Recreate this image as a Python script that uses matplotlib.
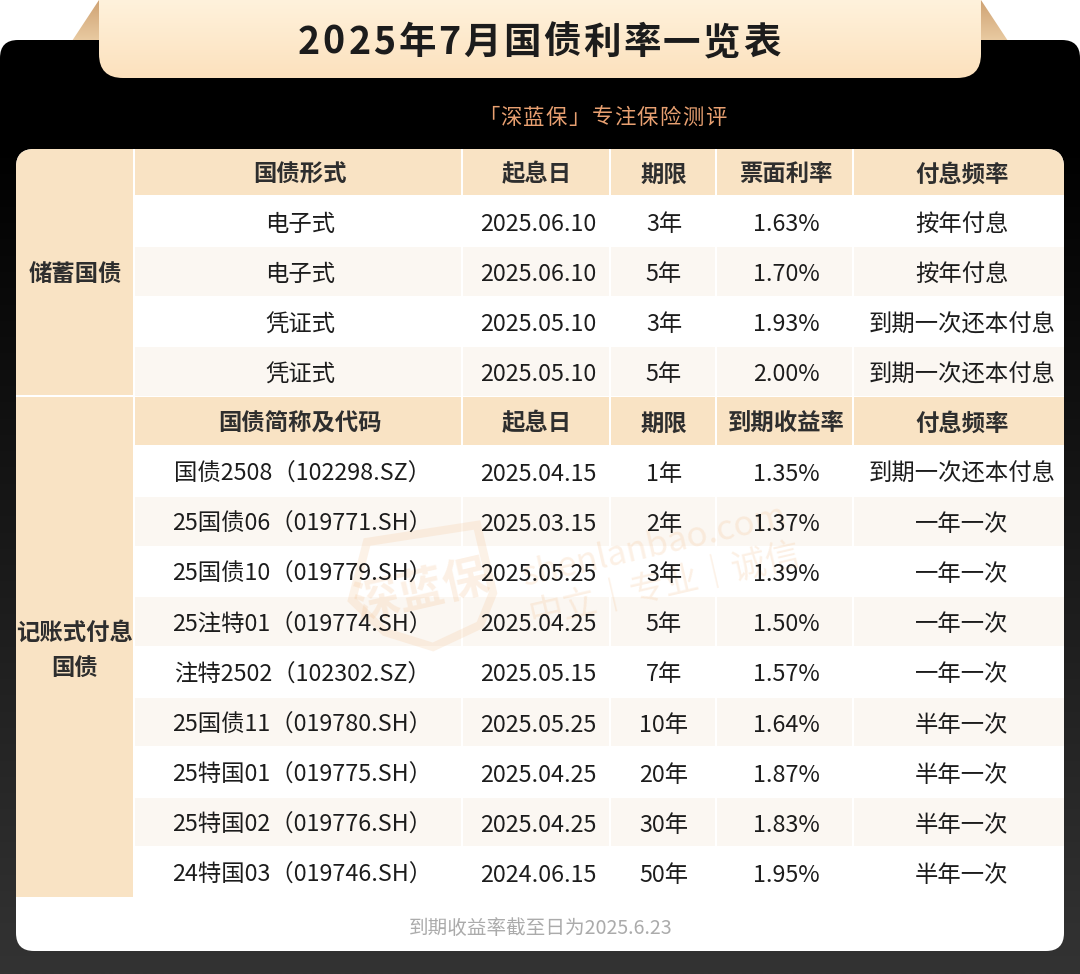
import numpy as np
import matplotlib
matplotlib.use("Agg")
import matplotlib.pyplot as plt
from matplotlib.patches import FancyBboxPatch, Polygon, Rectangle
from matplotlib.textpath import TextPath

plt.rcParams['font.family'] = ['Noto Sans CJK SC', 'DejaVu Sans']

# ---- data ----
title = "2025年7月国债利率一览表"
subtitle = "「深蓝保」专注保险测评"
footnote = "到期收益率截至日为2025.6.23"

header_a = ["国债形式", "起息日", "期限", "票面利率", "付息频率"]
header_b = ["国债简称及代码", "起息日", "期限", "到期收益率", "付息频率"]

savings_form = ["电子式", "电子式", "凭证式", "凭证式"]
savings_date = ["2025.06.10", "2025.06.10", "2025.05.10", "2025.05.10"]
savings_term = ["3年", "5年", "3年", "5年"]
savings_rate = ["1.63%", "1.70%", "1.93%", "2.00%"]
savings_freq = ["按年付息", "按年付息", "到期一次还本付息", "到期一次还本付息"]

book_name = ["国债2508（102298.SZ）", "25国债06（019771.SH）", "25国债10（019779.SH）",
             "25注特01（019774.SH）", "注特2502（102302.SZ）", "25国债11（019780.SH）",
             "25特国01（019775.SH）", "25特国02（019776.SH）", "24特国03（019746.SH）"]
book_date = ["2025.04.15", "2025.03.15", "2025.05.25", "2025.04.25", "2025.05.15",
             "2025.05.25", "2025.04.25", "2025.04.25", "2024.06.15"]
book_term = ["1年", "2年", "3年", "5年", "7年", "10年", "20年", "30年", "50年"]
book_rate = ["1.35%", "1.37%", "1.39%", "1.50%", "1.57%", "1.64%", "1.87%", "1.83%", "1.95%"]
book_freq = ["到期一次还本付息", "一年一次", "一年一次", "一年一次", "一年一次",
             "半年一次", "半年一次", "半年一次", "半年一次"]

BEIGE = "#F9E3C4"
TINT = "#FBF7F2"
INK = "#1C1C1C"
BODY_SIZE = 16.8

fig = plt.figure(figsize=(10.8, 9.74), dpi=100, facecolor="white")
ax = fig.add_axes([0, 0, 1, 1])
ax.set_xlim(0, 1080)
ax.set_ylim(974, 0)
ax.axis("off")


def gradient(patch, top, bottom, y0, y1, x0=0, x1=1080, z=1):
    c0 = np.array(matplotlib.colors.to_rgb(top))
    c1 = np.array(matplotlib.colors.to_rgb(bottom))
    t = np.linspace(0, 1, 256)[:, None, None]
    img = c0[None, None, :] * (1 - t) + c1[None, None, :] * t
    im = ax.imshow(img, extent=(x0, x1, y1, y0), aspect="auto", zorder=z, interpolation="bilinear")
    patch.set(facecolor="none", edgecolor="none", transform=ax.transData)
    ax.add_patch(patch)
    im.set_clip_path(patch)


def rbox(x0, y0, x1, y1, r, **kw):
    return FancyBboxPatch((x0 + r, y0 + r), x1 - x0 - 2 * r, y1 - y0 - 2 * r,
                          boxstyle=f"round,pad={r},rounding_size={r}", linewidth=0, **kw)


def spaced(text, cx, cy, size, gap, **kw):
    # matplotlib has no letter spacing, so place the glyphs one at a time
    parts = [ax.text(0, cy, ch, fontsize=size, ha="left", va="center_baseline", **kw) for ch in text]
    widths = []
    for ch, p in zip(text, parts):
        path = TextPath((0, 0), ch, size=size, prop=p.get_fontproperties())
        adv = size * 100 / 72 if ord(ch) > 0x2000 else path.get_extents().x1 * 100 / 72 + 2.5
        widths.append(adv)
    total = sum(widths) + gap * (len(text) - 1)
    x = cx - total / 2
    for p, w in zip(parts, widths):
        p.set_x(x)
        x += w + gap


# ---- background ----
gradient(Polygon([(72, 41), (99, 0), (99, 41)]), "#CFA273", "#E9CBA2", 0, 41, 72, 99, z=1)
gradient(Polygon([(981, 41), (981, 0), (1008, 41)]), "#CFA273", "#E9CBA2", 0, 41, 981, 1008, z=1)
ax.add_patch(rbox(0, 40, 1080, 1010, 18, facecolor="black", zorder=2))
gradient(rbox(0, 40, 1080, 1010, 18), "#000000", "#333333", 140, 974, z=2)
gradient(rbox(99, -40, 981, 78, 24), "#FFF2DC", "#FCE1BD", 0, 78, 99, 981, z=3)
card = rbox(16, 149, 1064, 951, 18, facecolor="white", zorder=4)
ax.add_patch(card)

spaced(title, 539, 38.5, 27, 2.4, color=INK, fontweight="bold", zorder=10)
spaced(subtitle, 602, 115, 15.4, 1.3, color="#E8A071", zorder=10)

# ---- table ----
col_x = [(135, 461), (463, 609), (611, 715), (717, 852), (854, 1064)]
head_c = [300, 537, 664, 786, 962]
body_c = [302.5, 538, 664, 786, 962]
row_h = 50.1


def cell(x0, x1, y0, y1, color):
    r = Rectangle((x0, y0), x1 - x0, y1 - y0, facecolor=color, linewidth=0, zorder=5)
    ax.add_patch(r)
    r.set_clip_path(card)


def draw_group(top, header_h, header, columns, centers):
    for (x0, x1), cx, lab in zip(col_x, head_c, header):
        cell(x0, x1, top, top + header_h, BEIGE)
        ax.text(cx, top + header_h / 2, lab, fontsize=BODY_SIZE, fontweight="bold", color="#2E2E2E",
                ha="center", va="center_baseline", zorder=8)
    for i, row in enumerate(zip(*columns)):
        y = top + header_h + 2 + i * row_h
        if i % 2 == 1:
            for x0, x1 in col_x:
                cell(x0, x1, y, y + row_h - 1.5, TINT)
        for cx, val in zip(centers, row):
            ax.text(cx, y + 25, val, fontsize=BODY_SIZE, color=INK, ha="center",
                    va="center_baseline", zorder=8)


# left column
cell(16, 133, 149, 395, BEIGE)
cell(16, 133, 397, 897, BEIGE)
draw_group(149, 46, header_a, [savings_form, savings_date, savings_term, savings_rate, savings_freq], head_c[:1] + body_c[1:])
draw_group(397, 48, header_b, [book_name, book_date, book_term, book_rate, book_freq], body_c)

for label, cy in [("储蓄国债", 272), ("记账式付息", 630), ("国债", 665)]:
    ax.text(75, cy, label, fontsize=16.8, fontweight="bold", color="#2E2E2E",
            ha="center", va="center_baseline", zorder=8)

ax.text(541, 926, footnote, fontsize=14.1, color="#ABABAB", ha="center", va="center_baseline", zorder=8)

# ---- watermark ----
WM = "#F3B77F"
shield = Polygon([(367, 542), (477, 525), (493, 593), (480, 625), (433, 647), (385, 632), (352, 600)],
                 closed=True, fill=False, edgecolor=WM, linewidth=6, alpha=0.18, zorder=6)
ax.add_patch(shield)
ax.text(422, 592, "深蓝保", fontsize=33, fontweight="bold", color=WM, alpha=0.2, rotation=13,
        ha="center", va="center", zorder=6)
ax.text(655, 546, "shenlanbao.com", fontsize=25, color=WM, alpha=0.2, rotation=13,
        ha="center", va="center", zorder=6)
ax.text(665, 586, "中立｜专业｜诚信", fontsize=25, color=WM, alpha=0.2, rotation=13,
        ha="center", va="center", zorder=6)

fig.savefig("out.png", dpi=100, facecolor="white")
